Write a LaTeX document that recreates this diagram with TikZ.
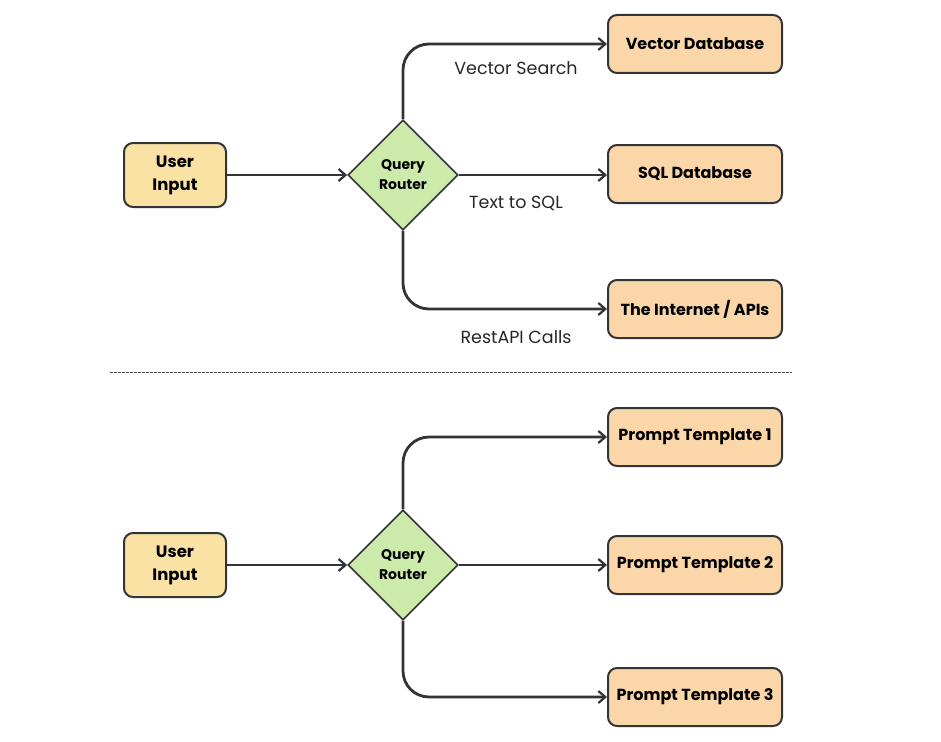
\documentclass[tikz,border=0pt]{standalone}
\usepackage{fontspec}
\setmainfont{Poppins}
\usetikzlibrary{shapes.geometric,arrows.meta}
\definecolor{inputfill}{RGB}{249,226,164}
\definecolor{destfill}{RGB}{250,214,168}
\definecolor{routerfill}{RGB}{204,234,170}
\definecolor{edgecol}{RGB}{50,52,56}
\tikzset{
  inbox/.style={draw=edgecol, line width=2pt, rounded corners=9pt, fill=inputfill,
    minimum width=102pt, minimum height=64pt, align=center, font=\fontsize{16.5}{23}\selectfont\bfseries},
  destbox/.style={draw=edgecol, line width=2pt, rounded corners=9pt, fill=destfill,
    minimum width=174pt, minimum height=58pt, font=\fontsize{16}{20}\selectfont\bfseries},
  router/.style={draw=edgecol, line width=1.6pt, diamond, fill=routerfill,
    minimum width=110pt, minimum height=110pt, inner sep=0pt, align=center,
    font=\fontsize{14}{20}\selectfont\bfseries},
  conn/.style={draw=edgecol, line width=2.8pt, rounded corners=26pt,
    -{Straight Barb[length=7pt,width=12pt,line width=2.2pt]}},
  lbl/.style={font=\fontsize{17.5}{20}\selectfont, text=black!85},
  sep/.style={draw=black!70, line width=1pt, dash pattern=on 2.5pt off 1.5pt}
}
\begin{document}
\begin{tikzpicture}[x=1pt,y=-1pt]
\useasboundingbox (0,0) rectangle (941,741);
% top half
\node[inbox] (ui1) at (175,175) {User\\Input};
\node[router] (qr1) at (403,175) {Query\\Router};
\node[destbox] (vdb) at (695,44) {Vector Database};
\node[destbox] (sql) at (695,174) {SQL Database};
\node[destbox] (web) at (695,309) {The Internet / APIs};
\draw[conn] (ui1) -- (qr1);
\draw[conn] (qr1.north) |- (vdb.west);
\draw[conn] (qr1.east) -- (qr1.east -| sql.west);
\draw[conn] (qr1.south) |- (web.west);
\node[lbl] (l1) at (516,68) {Vector Search};
\node[lbl] (l2) at (516,203) {Text to SQL};
\node[lbl] (l3) at (516,337) {RestAPI Calls};
% separator
\coordinate (s1) at (110,372);
\coordinate (s2) at (792,372);
\draw[sep] (s1) -- (s2);
% bottom half
\node[inbox] (ui2) at (175,565) {User\\Input};
\node[router] (qr2) at (403,565) {Query\\Router};
\node[destbox] (pt1) at (695,437) {Prompt Template 1};
\node[destbox] (pt2) at (695,565) {Prompt Template 2};
\node[destbox] (pt3) at (695,697) {Prompt Template 3};
\draw[conn] (ui2) -- (qr2);
\draw[conn] (qr2.north) |- (pt1.west);
\draw[conn] (qr2.east) -- (pt2.west);
\draw[conn] (qr2.south) |- (pt3.west);
\end{tikzpicture}
\end{document}
